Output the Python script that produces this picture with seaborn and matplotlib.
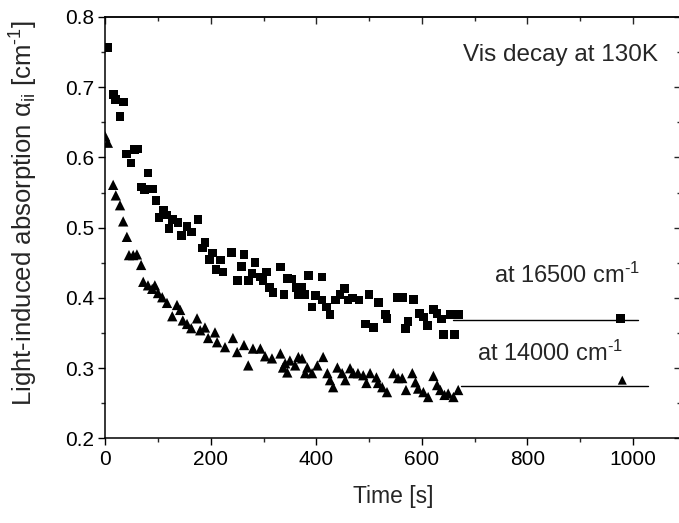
import numpy as np
import pandas as pd
import matplotlib
matplotlib.use("Agg")
import matplotlib.pyplot as plt
import seaborn as sns
from matplotlib.ticker import MultipleLocator

# ---- data ----
t_16500 = [5, 15, 20, 34, 28, 41, 49, 56, 62, 81, 68, 75, 89, 96, 110, 102, 117, 121, 128, 138,
           144, 155, 163, 176, 189, 184, 203, 197, 218, 210, 223, 240, 263, 258, 284, 250, 271, 278,
           294, 305, 299, 311, 318, 332, 345, 353, 339, 362, 372, 366, 377, 385, 411, 398, 392, 411,
           419, 426, 436, 445, 453, 460, 468, 481, 500, 518, 493, 508, 531, 534, 553, 563, 584, 574,
           569, 595, 603, 611, 622, 629, 637, 654, 669, 641, 662]
a_16500 = [0.757, 0.690, 0.683, 0.679, 0.658, 0.605, 0.592, 0.611, 0.612, 0.578, 0.558, 0.554, 0.555,
           0.539, 0.524, 0.514, 0.518, 0.499, 0.512, 0.507, 0.489, 0.502, 0.494, 0.512, 0.479, 0.471,
           0.464, 0.455, 0.454, 0.440, 0.437, 0.465, 0.462, 0.445, 0.450, 0.425, 0.425, 0.435, 0.430,
           0.437, 0.425, 0.415, 0.408, 0.444, 0.428, 0.427, 0.405, 0.415, 0.415, 0.405, 0.405, 0.432,
           0.430, 0.403, 0.387, 0.397, 0.387, 0.376, 0.397, 0.405, 0.414, 0.397, 0.400, 0.397, 0.405,
           0.393, 0.363, 0.358, 0.376, 0.371, 0.401, 0.401, 0.398, 0.366, 0.357, 0.378, 0.373, 0.361,
           0.384, 0.378, 0.370, 0.377, 0.377, 0.348, 0.348]

t_14000 = [0, 5, 15, 20, 28, 34, 41, 45, 53, 60, 68, 72, 81, 89, 94, 100, 108, 117, 127, 136, 142,
           147, 155, 163, 174, 180, 189, 195, 208, 212, 227, 242, 250, 263, 271, 280, 294, 303, 316,
           332, 337, 341, 345, 350, 360, 366, 373, 383, 379, 392, 402, 413, 421, 426, 432, 440, 449,
           455, 464, 470, 479, 489, 495, 502, 514, 517, 525, 534, 546, 555, 563, 570, 582, 588, 593,
           603, 612, 622, 629, 635, 643, 650, 660, 669]
a_14000 = [0.630, 0.621, 0.561, 0.546, 0.532, 0.509, 0.487, 0.461, 0.461, 0.462, 0.447, 0.423, 0.418,
           0.413, 0.418, 0.407, 0.401, 0.393, 0.374, 0.390, 0.383, 0.368, 0.363, 0.357, 0.371, 0.354,
           0.358, 0.343, 0.351, 0.337, 0.330, 0.343, 0.323, 0.333, 0.304, 0.328, 0.328, 0.317, 0.314,
           0.321, 0.301, 0.307, 0.294, 0.311, 0.304, 0.316, 0.314, 0.301, 0.293, 0.293, 0.304, 0.316,
           0.293, 0.283, 0.273, 0.301, 0.293, 0.283, 0.300, 0.293, 0.293, 0.290, 0.279, 0.293, 0.287,
           0.279, 0.273, 0.266, 0.293, 0.286, 0.286, 0.269, 0.293, 0.280, 0.271, 0.266, 0.259, 0.289,
           0.276, 0.269, 0.262, 0.264, 0.259, 0.269]

# saturation (long-time) values
t_final = [977, 980]
a_final = [0.371, 0.283]
level_16500 = 0.369
level_14000 = 0.275
span_16500 = [660, 1010]
span_14000 = [675, 1028]

x_ticks = [0, 200, 400, 600, 800, 1000]
y_ticks = [0.2, 0.3, 0.4, 0.5, 0.6, 0.7, 0.8]

df_a = pd.DataFrame({"t": t_16500, "a": a_16500})
df_b = pd.DataFrame({"t": t_14000, "a": a_14000})

sns.set_style("ticks")
plt.rcParams["font.family"] = ["Liberation Sans", "DejaVu Sans"]
plt.rcParams["mathtext.fontset"] = "custom"
plt.rcParams["mathtext.rm"] = "Liberation Sans"
plt.rcParams["mathtext.it"] = "Liberation Sans:italic"
plt.rcParams["mathtext.default"] = "regular"

fig = plt.figure(figsize=(6.79, 5.23), dpi=100)
ax = fig.add_axes([0.155, 0.1616, 0.8485, 0.806])

sns.scatterplot(data=df_a, x="t", y="a", marker="s", color="black", s=40,
                edgecolor="none", ax=ax, legend=False)
sns.scatterplot(data=df_b, x="t", y="a", marker="^", color="black", s=55,
                edgecolor="none", ax=ax, legend=False)
sns.scatterplot(x=[t_final[0]], y=[a_final[0]], marker="s", color="black", s=40,
                edgecolor="none", ax=ax, legend=False)
sns.scatterplot(x=[t_final[1]], y=[a_final[1]], marker="^", color="black", s=42,
                edgecolor="none", ax=ax, legend=False)

ax.plot(span_16500, [level_16500, level_16500], color="black", lw=1.0)
ax.plot(span_14000, [level_14000, level_14000], color="black", lw=1.0)

ax.set_xlim(0, 1092)
ax.set_ylim(0.2, 0.8)
ax.set_xticks(x_ticks)
ax.set_yticks(y_ticks)
ax.set_yticklabels([f"{v:.1f}" for v in y_ticks])
ax.xaxis.set_minor_locator(MultipleLocator(100))
ax.yaxis.set_minor_locator(MultipleLocator(0.05))

for sp in ax.spines.values():
    sp.set_visible(True)
    sp.set_linewidth(1.1)
    sp.set_color("black")

ax.tick_params(which="major", direction="out", length=5, width=1.0, labelsize=15,
               colors="black", pad=3)
ax.tick_params(which="minor", direction="out", length=3, width=1.0)

secx = ax.secondary_xaxis("top")
secx.set_xticks(x_ticks)
secx.xaxis.set_minor_locator(MultipleLocator(100))
secx.tick_params(which="major", direction="in", length=5, width=1.0, labeltop=False)
secx.tick_params(which="minor", direction="in", length=3, width=1.0)
secx.spines["top"].set_linewidth(1.1)

secy = ax.secondary_yaxis("right")
secy.set_yticks(y_ticks)
secy.yaxis.set_minor_locator(MultipleLocator(0.05))
secy.tick_params(which="major", direction="in", length=5, width=1.0, labelright=False)
secy.tick_params(which="minor", direction="in", length=3, width=1.0)

ax.set_xlabel("Time [s]", fontsize=16.5, labelpad=12)
ax.set_ylabel(r"Light-induced absorption α$_{ii}$ [cm$^{\text{-1}}$]", fontsize=18.5)
ax.yaxis.set_label_coords(-0.113, 0.535)

ax.text(679, 0.746, "Vis decay at 130K", fontsize=17.5, ha="left", va="center")
ax.text(736, 0.432, r"at 16500 cm$^{\text{-1}}$", fontsize=17, ha="left", va="center")
ax.text(705, 0.321, r"at 14000 cm$^{\text{-1}}$", fontsize=17, ha="left", va="center")

fig.savefig("out.png", dpi=100)
